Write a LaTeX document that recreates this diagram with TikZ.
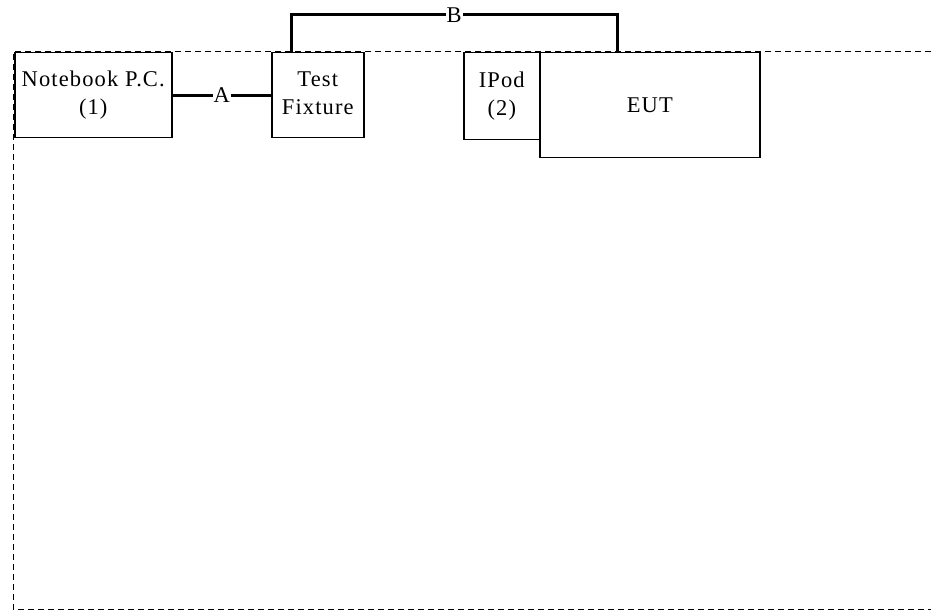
\documentclass[tikz,border=0pt]{standalone}
\usepackage{fontspec}
\setmainfont{Liberation Serif}[LetterSpace=5]
\newcommand{\twoline}[3]{\raisebox{#3}{\begin{tabular}{@{}c@{}}#1\\#2\end{tabular}}}
\begin{document}
\begin{tikzpicture}[x=1pt,y=-1pt,
  box/.style={draw=black,line width=1.5pt,fill=white,inner sep=0pt,align=center,
    font=\fontsize{22.5}{28}\selectfont},
  cable/.style={line width=3pt},
  lbl/.style={fill=white,inner sep=1pt,font=\fontsize{22.5}{24}\selectfont}]
\useasboundingbox (0,0) rectangle (931,612);
\draw[line width=1pt,dash pattern=on 6pt off 4pt] (931,52) -- (13,52) -- (13,609) -- (931,609);
\node[box,anchor=north west,minimum width=157,minimum height=85] (nb) at (14,52) {\twoline{Notebook P.C.}{(1)}{-2pt}};
\node[box,anchor=north west,minimum width=92,minimum height=85] (tf) at (271,52) {\twoline{Test}{Fixture}{-2pt}};
\node[box,anchor=north west,minimum width=76,minimum height=87] (ip) at (463,52) {\twoline{IPod}{(2)}{-3pt}};
\node[box,anchor=north west,minimum width=220,minimum height=105] (eut) at (539,52) {\raisebox{-2pt}{EUT}};
\draw[cable] (nb.east) -- node[lbl]{A} (tf.west);
\coordinate (b1) at ([xshift=20pt]tf.north west);
\coordinate (b2) at ([xshift=78pt]eut.north west);
\draw[cable] (b1) -- ++(0,-37) -| node[lbl,pos=0.25]{B} (b2);
\end{tikzpicture}
\end{document}
